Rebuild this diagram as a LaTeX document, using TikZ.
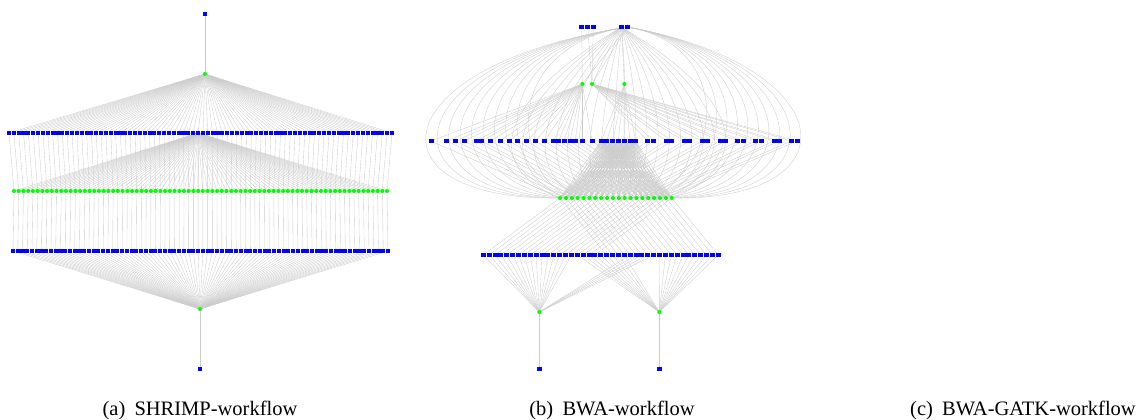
\documentclass[tikz,border=0pt]{standalone}
\usepackage{fontspec}
\setmainfont{Liberation Serif}
\pgfdeclarelayer{bg}
\pgfsetlayers{bg,main}
\definecolor{fblue}{RGB}{0,0,255}
\definecolor{fgreen}{RGB}{0,255,0}
\tikzset{
  fileA/.style={rectangle, fill=fblue, inner sep=0pt, minimum width=4.1pt, minimum height=3.2pt},
  fileB/.style={rectangle, fill=fblue, inner sep=0pt, minimum width=5pt, minimum height=3.4pt},
  task/.style={circle, fill=fgreen, inner sep=0pt, minimum size=4.1pt},
  ed/.style={draw=black!20, line width=0.35pt},
  captext/.style={anchor=base, inner sep=0pt, font=\fontsize{20.5}{24}\selectfont}
}
\begin{document}
\begin{tikzpicture}[x=1pt,y=-1pt]
\useasboundingbox (0,0) rectangle (1141,420);
% ---------------- (a) SHRIMP ----------------
\node[fileA] (a-top) at (205,14) {};
\node[task] (a-g0) at (205,74) {};
\foreach \i in {1,...,80}{
  \pgfmathsetmacro\xb{9+(\i-1)*(383/79)}
  \node[fileA] (a-b\i) at (\xb,133) {};
  \pgfmathsetmacro\xg{14+(\i-1)*(373/79)}
  \node[task] (a-g\i) at (\xg,191) {};
  \pgfmathsetmacro\xc{13+(\i-1)*(375/79)}
  \node[fileA] (a-c\i) at (\xc,251) {};
}
\node[task] (a-gb) at (200,309) {};
\node[fileA] (a-bot) at (200,369) {};
\begin{pgfonlayer}{bg}
\draw[ed] (a-top) -- (a-g0);
\foreach \i in {1,...,80}{
  \draw[ed] (a-g0) -- (a-b\i);
  \draw[ed] (a-b\i) -- (a-g\i);
  \draw[ed] (a-b40) -- (a-g\i);
  \draw[ed] (a-g\i) -- (a-c\i);
  \draw[ed] (a-c\i) -- (a-gb);
}
\draw[ed] (a-gb) -- (a-bot);
\end{pgfonlayer}
% ---------------- (b) BWA ----------------
\node[fileB] (b-t1) at (581.7,27) {};
\node[fileB] (b-t2) at (587.7,27) {};
\node[fileB] (b-t3) at (593.3,27) {};
\node[fileB] (b-t4) at (621.5,27) {};
\node[fileB] (b-t5) at (627.3,27) {};
\node[task] (b-G1) at (582.3,84) {};
\node[task] (b-G2) at (592,84) {};
\node[task] (b-G3) at (624.3,84) {};
\foreach \x [count=\k] in {431,446.7,455.7,464.3,476,481.7,490.7,500,509,517.7,526.7,535.7,544.7,553.3,558.7,564,570,575.3,582.3,592,601,606.7,612.7,618.3,624,630,635.7,647.7,653.7,666,671.7,684,689.3,702,707.7,720,725.3,737.7,743,755.3,761,774,779,791.7,797}{
  \node[fileB] (b-r\k) at (\x,141) {};
}
\foreach \i in {1,...,20}{
  \pgfmathsetmacro\xg{560+(\i-1)*5.88}
  \node[task] (b-g\i) at (\xg,198) {};
}
\foreach \k in {1,...,41}{
  \pgfmathsetmacro\xc{483.3+(\k-1)*5.875}
  \node[fileB] (b-c\k) at (\xc,255) {};
}
\node[task] (b-L) at (539.3,312) {};
\node[task] (b-R) at (659.3,312) {};
\node[fileB] (b-Lb) at (539.3,369) {};
\node[fileB] (b-Rb) at (659.3,369) {};
\begin{pgfonlayer}{bg}
\draw[ed] (b-t1) -- (b-G1);
\draw[ed] (b-t2) -- (b-G2);
\draw[ed] (b-t3) -- (b-G2);
\draw[ed] (b-t4) -- (b-G3);
\draw[ed] (b-t5) -- (b-G1);
\draw[ed] (b-t5) -- (b-G2);
\foreach \k in {1,...,20}{ \draw[ed] (b-G1) -- (b-r\k); }
\foreach \k in {28,...,45}{ \draw[ed] (b-G2) -- (b-r\k); }
\foreach \k in {21,...,27}{
  \draw[ed] (b-G3) -- (b-r\k);
  \foreach \i in {1,...,20}{ \draw[ed] (b-r\k) -- (b-g\i); }
}
\foreach \i in {1,...,20}{ \draw[ed] (b-r\i) -- (b-g\i); }
\foreach \m in {1,...,18}{
  \pgfmathtruncatemacro\k{27+\m}
  \pgfmathtruncatemacro\j{\m+1}
  \draw[ed] (b-r\k) -- (b-g\j);
}
% arcs from the reference file
\foreach \i in {1,...,10}{
  \pgfmathsetmacro\s{1-(\i-1)*0.05}
  \pgfmathsetmacro\xg{560+(\i-1)*5.88}
  \pgfmathsetmacro\pa{627-247*\s}
  \pgfmathsetmacro\py{27+40*\s}
  \pgfmathsetmacro\pb{\xg-195*\s}
  \draw[ed] (b-t5) .. controls (\pa,\py) and (\pb,200) .. (b-g\i);
}
\foreach \i in {11,...,20}{
  \pgfmathsetmacro\s{1-(20-\i)*0.05}
  \pgfmathsetmacro\xg{560+(\i-1)*5.88}
  \pgfmathsetmacro\pa{627+215*\s}
  \pgfmathsetmacro\py{27+40*\s}
  \pgfmathsetmacro\pb{\xg+185*\s}
  \draw[ed] (b-t5) .. controls (\pa,\py) and (\pb,200) .. (b-g\i);
}
\foreach \i in {1,...,20}{
  \pgfmathsetmacro\xg{560+(\i-1)*5.88}
  \pgfmathsetmacro\pa{621.5+(\i-10.5)*16}
  \pgfmathsetmacro\pb{\xg+(\i-10.5)*6}
  \draw[ed] (b-t4) .. controls (\pa,120) and (\pb,175) .. (b-g\i);
}
\foreach \i in {1,...,20}{
  \pgfmathtruncatemacro\j{\i+21}
  \draw[ed] (b-g\i) -- (b-c\i);
  \draw[ed] (b-g\i) -- (b-c\j);
}
\foreach \k in {1,...,16,26,27,28,29,30}{ \draw[ed] (b-c\k) -- (b-L); }
\foreach \k in {17,...,25,31,32,...,41}{ \draw[ed] (b-c\k) -- (b-R); }
\draw[ed] (b-L) -- (b-Lb);
\draw[ed] (b-R) -- (b-Rb);
\end{pgfonlayer}
% ---------------- captions ----------------
\node[captext] (capa) at (200,415) {(a)\hspace{0.45em}SHRIMP-workflow};
\node[captext] (capb) at (612,415) {(b)\hspace{0.45em}BWA-workflow};
\node[captext] (capc) at (1023,415) {(c)\hspace{0.45em}BWA-GATK-workflow};
\end{tikzpicture}
\end{document}
